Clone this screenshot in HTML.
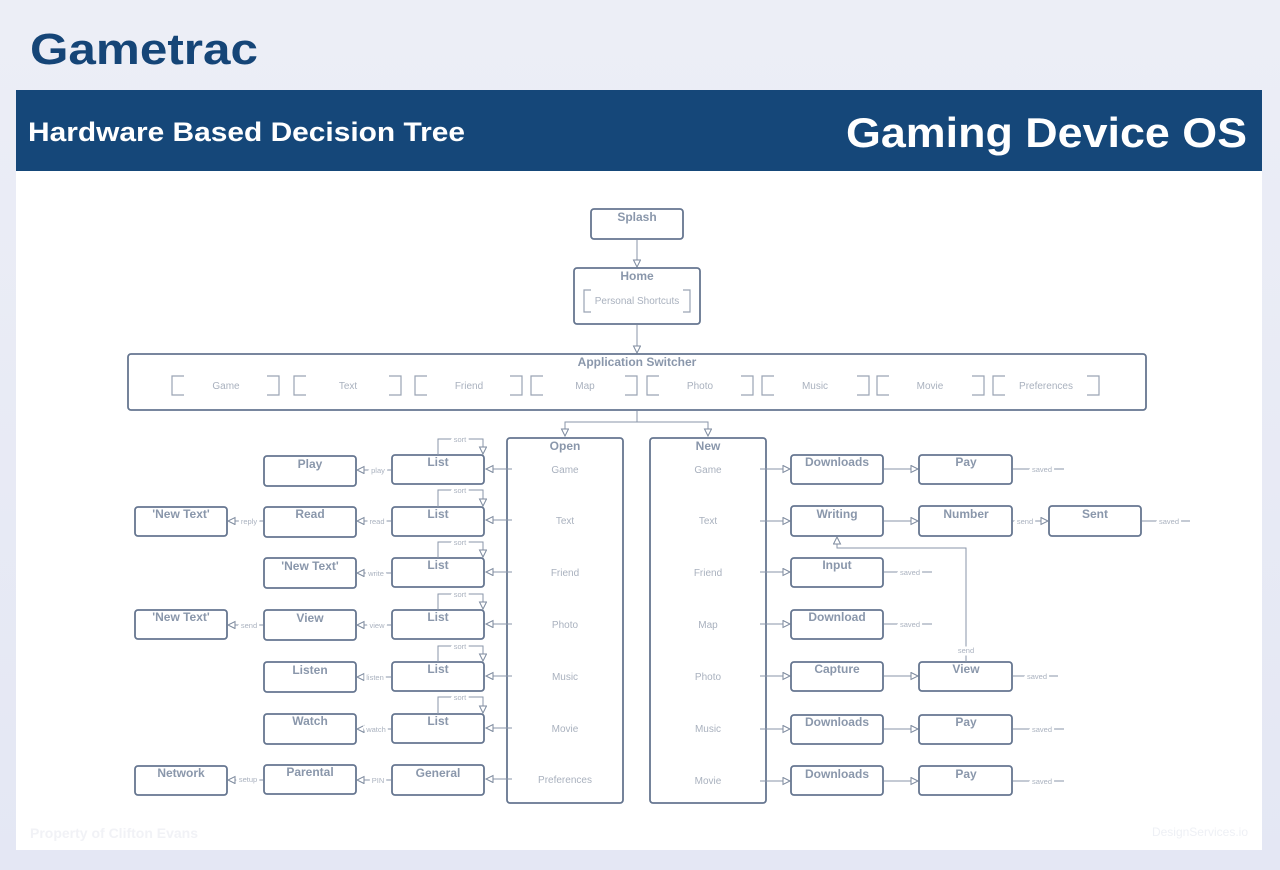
<!DOCTYPE html>
<html><head><meta charset="utf-8"><style>
html,body{margin:0;padding:0;width:1280px;height:870px;overflow:hidden;background:linear-gradient(180deg,#eceef6,#e4e7f4);font-family:"Liberation Sans",sans-serif}
svg{position:absolute;left:0;top:0}
svg text{font-family:"Liberation Sans",Arial,sans-serif}
.b{fill:#fff;stroke:#667690;stroke-width:1.8}
.t{font-weight:bold;font-size:12px;fill:#8a97ab;text-anchor:middle}
.s{font-size:10px;fill:#a9b1be;text-anchor:middle}
.l{font-size:7.5px;fill:#aab2bf;text-anchor:middle;paint-order:stroke;stroke:#fff;stroke-width:5px}
.c{stroke:#8a96a8;stroke-width:1;fill:none}
.k{stroke:#9aa4b4;stroke-width:1.2;fill:none}
</style></head><body>
<svg width="1280" height="870" viewBox="0 0 1280 870">
<defs><marker id="a" markerWidth="10" markerHeight="10" refX="8" refY="4" orient="auto" markerUnits="userSpaceOnUse"><path d="M1,0.5 L8,4 L1,7.5 Z" fill="#fff" stroke="#7d8a9e" stroke-width="1"/></marker></defs>
<text x="30" y="64" font-size="44" font-weight="bold" fill="#154577" textLength="228" lengthAdjust="spacingAndGlyphs">Gametrac</text>
<rect x="16" y="90" width="1246" height="81" fill="#154779"/>
<text x="28" y="141" font-size="27" font-weight="bold" fill="#fff" textLength="437" lengthAdjust="spacingAndGlyphs">Hardware Based Decision Tree</text>
<text x="846" y="147" font-size="42" font-weight="bold" fill="#fff" textLength="401" lengthAdjust="spacingAndGlyphs">Gaming Device OS</text>
<rect x="16" y="171" width="1246" height="679" fill="#fff"/>
<text x="30" y="838" font-size="14" font-weight="bold" fill="#f1f2f6">Property of Clifton Evans</text>
<text x="1248" y="836" font-size="12" fill="#eef0f5" text-anchor="end">DesignServices.io</text>

<rect class="b" x="591" y="209" width="92" height="30" rx="3"/><text class="t" x="637" y="221">Splash</text>
<line class="c" x1="637" y1="240" x2="637" y2="267" marker-end="url(#a)"/>
<rect class="b" x="574" y="268" width="126" height="56" rx="3"/><text class="t" x="637" y="280">Home</text>
<path class="k" d="M591,290 H584 V312 H591 M683,290 H690 V312 H683"/>
<text class="s" x="637" y="304">Personal Shortcuts</text>
<line class="c" x1="637" y1="325" x2="637" y2="353" marker-end="url(#a)"/>
<rect class="b" x="128" y="354" width="1018" height="56" rx="3"/><text class="t" x="637" y="366">Application Switcher</text>
<g>
<path class="k" d="M184,376 H172 V395 H184 M267,376 H279 V395 H267"/><text class="s" x="226" y="389">Game</text>
<path class="k" d="M306,376 H294 V395 H306 M389,376 H401 V395 H389"/><text class="s" x="348" y="389">Text</text>
<path class="k" d="M427,376 H415 V395 H427 M510,376 H522 V395 H510"/><text class="s" x="469" y="389">Friend</text>
<path class="k" d="M543,376 H531 V395 H543 M625,376 H637 V395 H625"/><text class="s" x="585" y="389">Map</text>
<path class="k" d="M659,376 H647 V395 H659 M741,376 H753 V395 H741"/><text class="s" x="700" y="389">Photo</text>
<path class="k" d="M774,376 H762 V395 H774 M857,376 H869 V395 H857"/><text class="s" x="815" y="389">Music</text>
<path class="k" d="M889,376 H877 V395 H889 M972,376 H984 V395 H972"/><text class="s" x="930" y="389">Movie</text>
<path class="k" d="M1005,376 H993 V395 H1005 M1087,376 H1099 V395 H1087"/><text class="s" x="1046" y="389">Preferences</text>
</g>
<path class="c" d="M637,411 V422 H565 V436" marker-end="url(#a)"/>
<path class="c" d="M637,422 H708 V436" marker-end="url(#a)"/>

<rect class="b" x="507" y="438" width="116" height="365" rx="3"/><text class="t" x="565" y="450">Open</text>
<rect class="b" x="650" y="438" width="116" height="365" rx="3"/><text class="t" x="708" y="450">New</text>

<g>
<text class="s" x="565" y="473">Game</text><text class="s" x="565" y="524">Text</text><text class="s" x="565" y="576">Friend</text><text class="s" x="565" y="628">Photo</text><text class="s" x="565" y="680">Music</text><text class="s" x="565" y="732">Movie</text><text class="s" x="565" y="783">Preferences</text>
<line class="c" x1="512" y1="469" x2="486" y2="469" marker-end="url(#a)"/>
<line class="c" x1="512" y1="520" x2="486" y2="520" marker-end="url(#a)"/>
<line class="c" x1="512" y1="572" x2="486" y2="572" marker-end="url(#a)"/>
<line class="c" x1="512" y1="624" x2="486" y2="624" marker-end="url(#a)"/>
<line class="c" x1="512" y1="676" x2="486" y2="676" marker-end="url(#a)"/>
<line class="c" x1="512" y1="728" x2="486" y2="728" marker-end="url(#a)"/>
<line class="c" x1="512" y1="779" x2="486" y2="779" marker-end="url(#a)"/>

<rect class="b" x="392" y="455" width="92" height="29" rx="3"/><text class="t" x="438" y="466">List</text>
<rect class="b" x="392" y="507" width="92" height="29" rx="3"/><text class="t" x="438" y="518">List</text>
<rect class="b" x="392" y="558" width="92" height="29" rx="3"/><text class="t" x="438" y="569">List</text>
<rect class="b" x="392" y="610" width="92" height="29" rx="3"/><text class="t" x="438" y="621">List</text>
<rect class="b" x="392" y="662" width="92" height="29" rx="3"/><text class="t" x="438" y="673">List</text>
<rect class="b" x="392" y="714" width="92" height="29" rx="3"/><text class="t" x="438" y="725">List</text>
<rect class="b" x="392" y="765" width="92" height="30" rx="3"/><text class="t" x="438" y="777">General</text>

<path class="c" d="M438,455 V439 H483 V454" marker-end="url(#a)"/><text class="l" x="460" y="442">sort</text>
<path class="c" d="M438,507 V490 H483 V506" marker-end="url(#a)"/><text class="l" x="460" y="493">sort</text>
<path class="c" d="M438,558 V542 H483 V557" marker-end="url(#a)"/><text class="l" x="460" y="545">sort</text>
<path class="c" d="M438,610 V594 H483 V609" marker-end="url(#a)"/><text class="l" x="460" y="597">sort</text>
<path class="c" d="M438,662 V646 H483 V661" marker-end="url(#a)"/><text class="l" x="460" y="649">sort</text>
<path class="c" d="M438,714 V697 H483 V713" marker-end="url(#a)"/><text class="l" x="460" y="700">sort</text>

<rect class="b" x="264" y="456" width="92" height="30" rx="3"/><text class="t" x="310" y="468">Play</text>
<rect class="b" x="264" y="507" width="92" height="30" rx="3"/><text class="t" x="310" y="518">Read</text>
<rect class="b" x="264" y="558" width="92" height="30" rx="3"/><text class="t" x="310" y="570">'New Text'</text>
<rect class="b" x="264" y="610" width="92" height="30" rx="3"/><text class="t" x="310" y="622">View</text>
<rect class="b" x="264" y="662" width="92" height="30" rx="3"/><text class="t" x="310" y="674">Listen</text>
<rect class="b" x="264" y="714" width="92" height="30" rx="3"/><text class="t" x="310" y="725">Watch</text>
<rect class="b" x="264" y="765" width="92" height="29" rx="3"/><text class="t" x="310" y="776">Parental</text>

<line class="c" x1="391" y1="470" x2="357" y2="470" marker-end="url(#a)"/><text class="l" x="378" y="473">play</text>
<line class="c" x1="391" y1="521" x2="357" y2="521" marker-end="url(#a)"/><text class="l" x="377" y="524">read</text>
<line class="c" x1="391" y1="573" x2="357" y2="573" marker-end="url(#a)"/><text class="l" x="376" y="576">write</text>
<line class="c" x1="391" y1="625" x2="357" y2="625" marker-end="url(#a)"/><text class="l" x="377" y="628">view</text>
<line class="c" x1="391" y1="677" x2="357" y2="677" marker-end="url(#a)"/><text class="l" x="375" y="680">listen</text>
<line class="c" x1="391" y1="729" x2="357" y2="729" marker-end="url(#a)"/><text class="l" x="376" y="732">watch</text>
<line class="c" x1="391" y1="780" x2="357" y2="780" marker-end="url(#a)"/><text class="l" x="378" y="783">PIN</text>

<rect class="b" x="135" y="507" width="92" height="29" rx="3"/><text class="t" x="181" y="518">'New Text'</text>
<rect class="b" x="135" y="610" width="92" height="29" rx="3"/><text class="t" x="181" y="621">'New Text'</text>
<rect class="b" x="135" y="766" width="92" height="29" rx="3"/><text class="t" x="181" y="777">Network</text>
<line class="c" x1="263" y1="521" x2="228" y2="521" marker-end="url(#a)"/><text class="l" x="249" y="524">reply</text>
<line class="c" x1="263" y1="625" x2="228" y2="625" marker-end="url(#a)"/><text class="l" x="249" y="628">send</text>
<line class="c" x1="263" y1="780" x2="228" y2="780" marker-end="url(#a)"/><text class="l" x="248" y="782">setup</text>
</g>

<g>
<text class="s" x="708" y="473">Game</text><text class="s" x="708" y="524">Text</text><text class="s" x="708" y="576">Friend</text><text class="s" x="708" y="628">Map</text><text class="s" x="708" y="680">Photo</text><text class="s" x="708" y="732">Music</text><text class="s" x="708" y="784">Movie</text>
<line class="c" x1="760" y1="469" x2="790" y2="469" marker-end="url(#a)"/>
<line class="c" x1="760" y1="521" x2="790" y2="521" marker-end="url(#a)"/>
<line class="c" x1="760" y1="572" x2="790" y2="572" marker-end="url(#a)"/>
<line class="c" x1="760" y1="624" x2="790" y2="624" marker-end="url(#a)"/>
<line class="c" x1="760" y1="676" x2="790" y2="676" marker-end="url(#a)"/>
<line class="c" x1="760" y1="729" x2="790" y2="729" marker-end="url(#a)"/>
<line class="c" x1="760" y1="781" x2="790" y2="781" marker-end="url(#a)"/>

<rect class="b" x="791" y="455" width="92" height="29" rx="3"/><text class="t" x="837" y="466">Downloads</text>
<rect class="b" x="791" y="506" width="92" height="30" rx="3"/><text class="t" x="837" y="518">Writing</text>
<rect class="b" x="791" y="558" width="92" height="29" rx="3"/><text class="t" x="837" y="569">Input</text>
<rect class="b" x="791" y="610" width="92" height="29" rx="3"/><text class="t" x="837" y="621">Download</text>
<rect class="b" x="791" y="662" width="92" height="29" rx="3"/><text class="t" x="837" y="673">Capture</text>
<rect class="b" x="791" y="715" width="92" height="29" rx="3"/><text class="t" x="837" y="726">Downloads</text>
<rect class="b" x="791" y="766" width="92" height="29" rx="3"/><text class="t" x="837" y="778">Downloads</text>

<line class="c" x1="884" y1="469" x2="918" y2="469" marker-end="url(#a)"/>
<line class="c" x1="884" y1="521" x2="918" y2="521" marker-end="url(#a)"/>
<line class="c" x1="884" y1="676" x2="918" y2="676" marker-end="url(#a)"/>
<line class="c" x1="884" y1="729" x2="918" y2="729" marker-end="url(#a)"/>
<line class="c" x1="884" y1="781" x2="918" y2="781" marker-end="url(#a)"/>

<rect class="b" x="919" y="455" width="93" height="29" rx="3"/><text class="t" x="966" y="466">Pay</text>
<rect class="b" x="919" y="506" width="93" height="30" rx="3"/><text class="t" x="966" y="518">Number</text>
<rect class="b" x="919" y="662" width="93" height="29" rx="3"/><text class="t" x="966" y="673">View</text>
<rect class="b" x="919" y="715" width="93" height="29" rx="3"/><text class="t" x="966" y="726">Pay</text>
<rect class="b" x="919" y="766" width="93" height="29" rx="3"/><text class="t" x="966" y="778">Pay</text>

<rect class="b" x="1049" y="506" width="92" height="30" rx="3"/><text class="t" x="1095" y="518">Sent</text>
<line class="c" x1="1013" y1="521" x2="1048" y2="521" marker-end="url(#a)"/><text class="l" x="1025" y="524">send</text>

<path class="c" d="M966,662 V548 H837 V537" marker-end="url(#a)"/><text class="l" x="966" y="653">send</text>

<g class="c">
<line x1="1013" y1="469" x2="1064" y2="469"/><line x1="1142" y1="521" x2="1190" y2="521"/>
<line x1="884" y1="572" x2="932" y2="572"/><line x1="884" y1="624" x2="932" y2="624"/>
<line x1="1013" y1="676" x2="1058" y2="676"/><line x1="1013" y1="729" x2="1064" y2="729"/>
<line x1="1013" y1="781" x2="1064" y2="781"/>
</g>
<text class="l" x="1042" y="472">saved</text><text class="l" x="1169" y="524">saved</text>
<text class="l" x="910" y="575">saved</text><text class="l" x="910" y="627">saved</text>
<text class="l" x="1037" y="679">saved</text><text class="l" x="1042" y="732">saved</text>
<text class="l" x="1042" y="784">saved</text>
</g>
</svg>
</body></html>
